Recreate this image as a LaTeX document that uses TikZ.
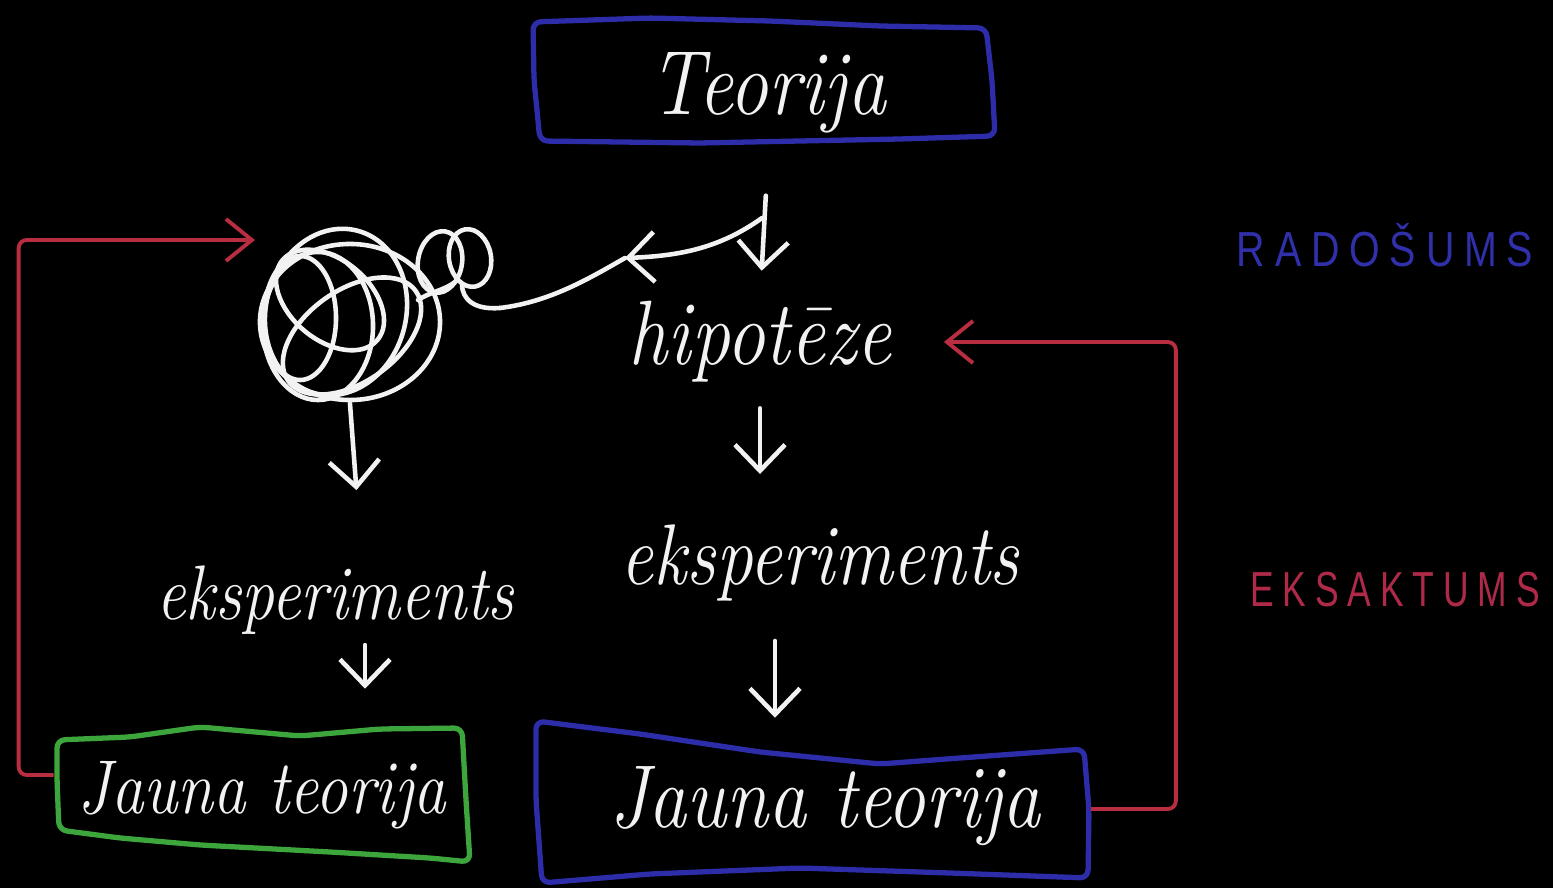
\documentclass[tikz,border=0pt]{standalone}
\usepackage{fontspec}
\newfontfamily\capsfont[LetterSpace=25]{Liberation Sans}
\usetikzlibrary{arrows.meta}
\definecolor{chalk}{RGB}{242,242,242}
\definecolor{boxblue}{RGB}{45,45,170}
\definecolor{linered}{RGB}{185,45,65}
\definecolor{boxgreen}{RGB}{60,165,60}
\definecolor{lblblue}{RGB}{48,48,170}
\definecolor{lblred}{RGB}{175,42,72}
\newcommand{\handtxt}[1]{\scalebox{0.85}[1]{#1}}
\begin{document}
\begin{tikzpicture}[x=0.01cm,y=-0.01cm,
  handtext/.style={text=chalk, inner sep=0pt, font=\itshape},
  boxnode/.style={text=chalk, inner sep=0pt, font=\itshape},
  chalkline/.style={draw=chalk, line width=1.3pt, line cap=round, line join=round},
  chalkarrow/.style={chalkline, -{Straight Barb[length=0.26cm,width=0.5cm,line width=1.3pt]}},
  redarrow/.style={draw=linered, line width=1.1pt, rounded corners=0.08cm, -{Straight Barb[length=0.26cm,width=0.42cm,line width=1.1pt]}},
  handbox/.style={line width=1.5pt, line join=round, rounded corners=0.08cm},
  caplabel/.style={inner sep=0pt, font=\capsfont\fontsize{14}{16}\selectfont}
]
\fill[black] (0,0) rectangle (1553,888);
\useasboundingbox (0,0) rectangle (1553,888);

% ---------- boxes (hand drawn outlines)
\draw[handbox, boxblue] (533,22) -- (650,18) -- (770,21) -- (880,26) -- (986,28) -- (992,80) -- (995,136) -- (900,139) -- (800,141) -- (700,143) -- (540,141) -- (534,80) -- cycle;
\draw[handbox, boxblue] (536,721) -- (640,734) -- (760,752) -- (880,764) -- (960,758) -- (1084,749) -- (1089,810) -- (1088,878) -- (950,873) -- (800,868) -- (650,874) -- (542,883) -- (536,800) -- cycle;
\draw[handbox, boxgreen] (57,740) -- (130,737) -- (200,727) -- (300,736) -- (380,729) -- (462,728) -- (466,800) -- (470,862) -- (430,858) -- (330,852) -- (200,845) -- (120,838) -- (59,830) -- (57,780) -- cycle;

% ---------- nodes
\node[boxnode, minimum width=4.6cm, minimum height=1.25cm, font=\itshape\fontsize{26}{30}\selectfont] (teorija) at (768,93) {\handtxt{Teorija}};
\node[handtext, font=\itshape\fontsize{26}{30}\selectfont] (hip) at (760,342) {\handtxt{hipotēze}};
\node[handtext, font=\itshape\fontsize{22}{26}\selectfont] (eksL) at (335,600) {\handtxt{eksperiments}};
\node[handtext, font=\itshape\fontsize{24.5}{28}\selectfont] (eksR) at (820,563) {\handtxt{eksperiments}};
\node[boxnode, minimum width=4.15cm, minimum height=1.35cm, font=\itshape\fontsize{21.7}{26}\selectfont] (jg) at (262,795) {\handtxt{Jauna teorija}};
\node[boxnode, minimum width=5.3cm, minimum height=1.65cm, font=\itshape\fontsize{25.4}{30}\selectfont] (jb) at (825,806) {\handtxt{Jauna teorija}};
\node[minimum width=1.9cm, minimum height=1.7cm, inner sep=0pt] (tangle) at (350,318) {};
\node[caplabel, text=lblblue] (rad) at (1385,245) {\scalebox{0.8}[1]{RADOŠUMS}};
\node[caplabel, text=lblred] (eks) at (1395,590) {\scalebox{0.72}[1]{EKSAKTUMS}};
\coordinate (branch) at (762,218);
\coordinate (tailtip) at (625,258);
\coordinate (redL) at (255,240);

% ---------- the tangle
\begin{scope}[chalkline]
\draw (350,322) ellipse [x radius=0.9cm, y radius=0.78cm];
\draw (318,326) ellipse [x radius=0.55cm, y radius=0.74cm];
\draw (300,318) ellipse [x radius=0.36cm, y radius=0.62cm];
\draw (336,312) ellipse [x radius=0.7cm, y radius=0.84cm, rotate=-15];
\draw (352,336) ellipse [x radius=0.78cm, y radius=0.46cm, rotate=35];
\draw (330,300) ellipse [x radius=0.62cm, y radius=0.4cm, rotate=-40];
% two small loops
\draw (440,262) ellipse [x radius=0.22cm, y radius=0.31cm, rotate=-10];
\draw (470,258) ellipse [x radius=0.21cm, y radius=0.29cm, rotate=10];
\draw (418,300) .. controls (430,292) and (445,290) .. (455,282);
\draw (462,284) .. controls (462,300) and (475,310) .. (500,308);
\draw (500,308) .. controls (550,302) and (590,278) .. (tailtip);
\end{scope}

% ---------- chalk arrows
\draw[chalkarrow, shorten <=0.395cm, shorten >=0.3cm] (teorija.south) -- (hip.north);
\draw[chalkarrow] (branch) .. controls (720,248) and (680,256) .. (tailtip);
\draw[chalkarrow, shorten >=0.75cm] (tangle.south) -- ([xshift=0.27cm]eksL.north);
\draw[chalkarrow, shorten <=0.25cm, shorten >=0.5cm] (hip.south) -- (hip.south |- eksR.north);
\draw[chalkarrow, shorten <=0.1cm, shorten >=0.38cm] ([xshift=0.3cm]eksL.south) -- ([xshift=0.3cm]eksL.south |- jg.north);
\draw[chalkarrow, shorten <=0.39cm, shorten >=0.05cm] ([xshift=-0.45cm]eksR.south) -- ([xshift=-0.45cm]eksR.south |- jb.north);

% ---------- red feedback loops
\draw[redarrow] ([yshift=0.2cm]jg.west) -- ++(-35,0) |- (redL);
\draw[redarrow, shorten >=0.52cm] ([yshift=-0.03cm]jb.east) -- ++(85,0) |- (hip.east);
\end{tikzpicture}
\end{document}
